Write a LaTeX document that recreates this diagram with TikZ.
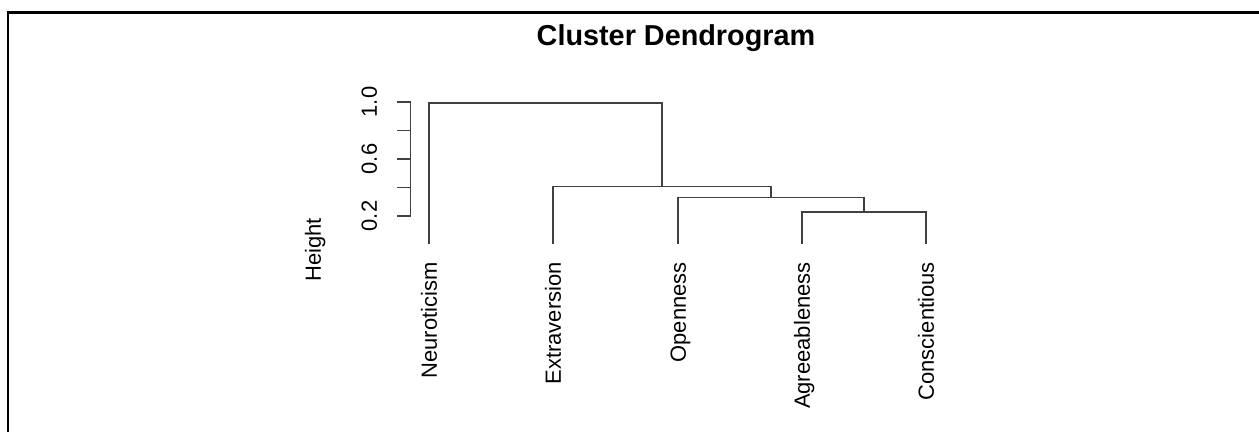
\documentclass[tikz,border=0pt]{standalone}
\usepackage{fontspec}
\setmainfont{Liberation Sans}

\begin{document}
\begin{tikzpicture}[x=0.02cm,y=-0.02cm,
  branch/.style={draw=black!75,line width=0.75pt},
  leaf label/.style={rotate=90,anchor=east,inner sep=0pt,text height=8.95pt,text depth=0pt,font=\fontsize{12.5}{15}\selectfont},
  tick label/.style={rotate=90,inner sep=0pt,text height=8.95pt,text depth=0pt,font=\fontsize{12.5}{15}\selectfont}]
\useasboundingbox (0,0) rectangle (1259,432);

% frame
\draw[line width=1.4pt] (8,432) -- (8,12.5) -- (1259,12.5);

\node[font=\bfseries\fontsize{16.4}{20}\selectfont] (title) at (676,38) {Cluster Dendrogram};

% leaves
\coordinate (neu) at (429,244.5);
\coordinate (ext) at (553,244.5);
\coordinate (ope) at (678,244.5);
\coordinate (agr) at (802,244.5);
\coordinate (con) at (926,244.5);

% merges, h -> y = 244.5 - 142.5 h
\coordinate (m1) at (864,212);   % 0.228
\coordinate (m2) at (771,197.7); % 0.328
\coordinate (m3) at (662,186.7); % 0.406
\coordinate (m4) at (545.5,103); % 0.99

\draw[branch] (agr) |- (m1) -| (con);
\draw[branch] (ope) |- (m2) -| (m1);
\draw[branch] (ext) |- (m3) -| (m2);
\draw[branch] (neu) |- (m4) -| (m3);

% labels
\node[leaf label] (lneu) at (429,262) {Neuroticism};
\node[leaf label] (lext) at (553,262) {Extraversion};
\node[leaf label] (lope) at (678,262) {Openness};
\node[leaf label] (lagr) at (802,262) {Agreeableness};
\node[leaf label] (lcon) at (926,262) {Conscientious};

% axis
\coordinate (ytop) at (410.5,102);
\coordinate (ybot) at (410.5,216);
\draw[branch] (ytop) -- (ybot);
\foreach \h in {0.2,0.4,0.6,0.8,1.0}
  \draw[branch] (410.5,244.5-142.5*\h) -- ++(-14,0);
\node[tick label] (t02) at (369,216) {0.2};
\node[tick label] (t06) at (369,159) {0.6};
\node[tick label] (t10) at (369,102) {1.0};

\node[tick label] (ylab) at (313,250) {Height};

\end{tikzpicture}
\end{document}
